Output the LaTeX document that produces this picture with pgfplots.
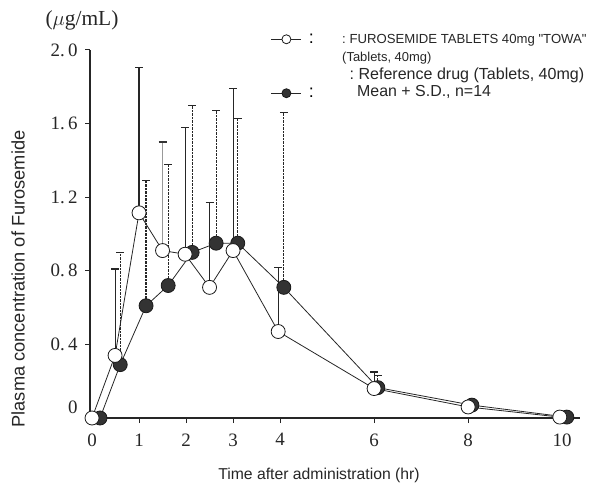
\documentclass[border=0pt]{standalone}
\usepackage{fontspec}
\setmainfont{Liberation Serif}
\newfontfamily\arial{Liberation Sans}
\usepackage{pgfplots}
\pgfplotsset{compat=1.18}
\pgfplotstableread{
x y e
0.49 0.34 0.47
1.0 1.115 0.79
1.98 0.89 0.69
2.5 0.71 0.46
3.0 0.91 0.88
3.96 0.47 0.35
6.0 0.16 0.09
}\testerr
\pgfplotstableread{
x y e
1.5 0.91 0.59
}\testerrgray
\pgfplotstableread{
x y
0 0
0.49 0.34
1.0 1.115
1.5 0.91
1.98 0.89
2.5 0.71
3.0 0.91
3.96 0.47
6.0 0.16
8.0 0.06
9.95 0.005
}\test
\pgfplotstableread{
x y e
0.6 0.29 0.61
1.15 0.61 0.68
1.62 0.72 0.66
2.13 0.90 0.80
2.64 0.95 0.72
3.1 0.95 0.68
4.08 0.71 0.95
6.08 0.165 0.065
}\referr
\pgfplotstableread{
x y
0.17 0
0.6 0.29
1.15 0.61
1.62 0.72
2.13 0.90
2.64 0.95
3.1 0.95
4.08 0.71
6.08 0.165
8.08 0.07
10.1 0.005
}\reference
\begin{document}
\begin{tikzpicture}
\path[use as bounding box] (0,0) rectangle (600bp,483bp);
\begin{axis}[
  at={(90bp,65bp)}, anchor=south west,
  scale only axis, width=490bp, height=368bp,
  xmin=-0.043, xmax=10.38, ymin=0, ymax=2.0,
  axis x line*=bottom, axis y line*=left,
  axis line style={line width=1.1bp, black!85},
  xtick={0,1,2,3,4,6,8,10},
  ytick={0,0.4,0.8,1.2,1.6,2.0},
  yticklabels={\raisebox{11bp}[\height][\depth]{0}, 0.\,4, 0.\,8, 1.\,2, 1.\,6, 2.\,0},
  xticklabels={0,1,2,3,4,6,8,10},
  tick align=outside, major tick length=5bp,
  tick style={line width=1bp, black!85},
  tick label style={font=\fontsize{19}{19}\selectfont, text=black!85},
  yticklabel style={xshift=-4bp},
  xticklabel style={yshift=-7bp},
  clip=false,
  reverse legend,
  legend style={draw=none, fill=none, at={(axis description cs:0.369,1.05)}, anchor=north west,
    font=\arial\fontsize{18}{18}\selectfont, row sep=39bp, inner sep=0pt},
  legend image code/.code={\draw[mark repeat=2, mark phase=2, #1, mark size=4.5bp] plot coordinates {(0bp,0bp) (15bp,0bp) (30bp,0bp)};},
]
% reference error bars (dashed)
\addplot[forget plot, only marks, mark=none,
  error bars/.cd, y dir=plus, y explicit,
  error bar style={draw=black!85, line width=1.2bp, dash pattern=on 2.5bp off 1bp},
  error mark options={solid, draw=black!85, line width=1.1bp, mark size=4bp, rotate=90}]
  table[x=x, y=y, y error=e] {\referr};
\addplot[black!85, line width=0.8bp, mark=*, mark size=7bp, mark options={fill=black!80, draw=black!90}]
  table[x=x, y=y] {\reference};
\addlegendentry{\hspace{5bp}:}
% test error bars (solid)
\addplot[forget plot, only marks, mark=none,
  error bars/.cd, y dir=plus, y explicit,
  error bar style={draw=black!85, line width=1.1bp, solid},
  error mark options={solid, draw=black!85, line width=1.1bp, mark size=4bp, rotate=90}]
  table[x=x, y=y, y error=e] {\testerr};
\addplot[forget plot, only marks, mark=none,
  error bars/.cd, y dir=plus, y explicit,
  error bar style={draw=black!40, line width=0.9bp, solid},
  error mark options={solid, draw=black!80, line width=1.1bp, mark size=4bp, rotate=90}]
  table[x=x, y=y, y error=e] {\testerrgray};
\addplot[black!85, line width=0.8bp, mark=*, mark size=7bp, mark options={fill=white, draw=black!90}]
  table[x=x, y=y] {\test};
\addlegendentry{\hspace{5bp}:}
\end{axis}
\node[anchor=center, font=\fontsize{21.5}{21.5}\selectfont, text=black!85] at (82bp,463bp) {($\mu$g/mL)};
\node[anchor=center, rotate=90, font=\arial\fontsize{18.3}{18.3}\selectfont, text=black!85] at (18bp,204bp) {Plasma concentration of Furosemide};
\node[anchor=center, font=\arial\fontsize{15.8}{15.8}\selectfont, text=black!85] at (319bp,8bp) {Time after administration (hr)};
\node[anchor=west, inner sep=0pt, font=\arial\fontsize{13.2}{13.2}\selectfont, text=black!85] at (342bp,443bp) {:\ FUROSEMIDE TABLETS 40mg "TOWA"};
\node[anchor=west, inner sep=0pt, font=\arial\fontsize{13}{13}\selectfont, text=black!85] at (342bp,425bp) {(Tablets, 40mg)};
\node[anchor=west, inner sep=0pt, font=\arial\fontsize{16.1}{16.1}\selectfont, text=black!85] at (349.5bp,408bp) {:\ Reference drug (Tablets, 40mg)};
\node[anchor=west, inner sep=0pt, font=\arial\fontsize{16}{16}\selectfont, text=black!85] at (357bp,391bp) {Mean + S.D., n=14};
\end{tikzpicture}
\end{document}
